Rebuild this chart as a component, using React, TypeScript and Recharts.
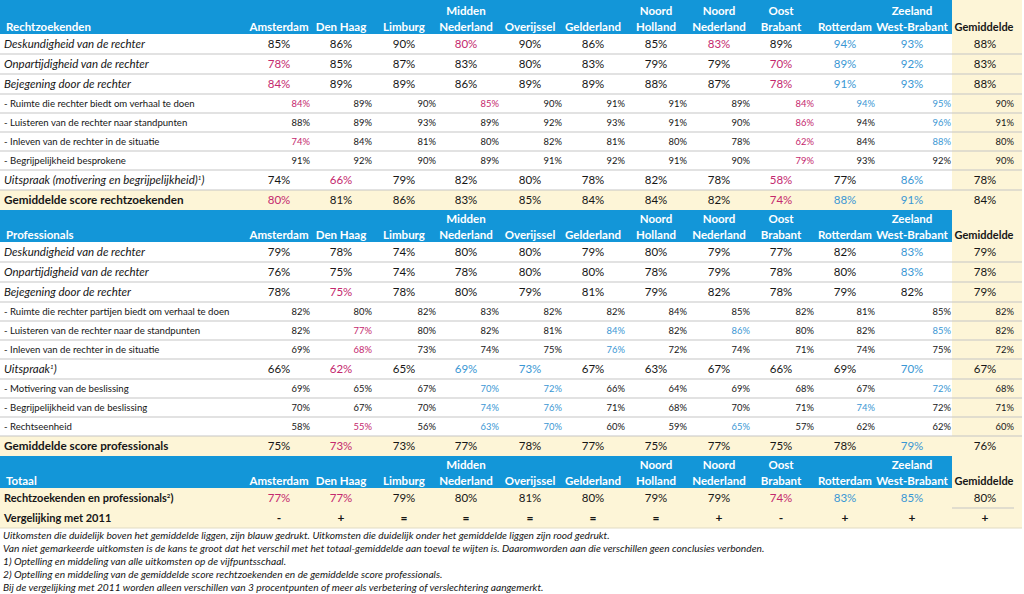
import React from 'react';
import { ScatterChart, Scatter, XAxis, YAxis, ReferenceArea, ReferenceLine } from 'recharts';

// ---------- DATA ----------
const columnHeaders: [string, string][] = [
  ['', 'Amsterdam'], ['', 'Den Haag'], ['', 'Limburg'], ['Midden', 'Nederland'],
  ['', 'Overijssel'], ['', 'Gelderland'], ['Noord', 'Holland'], ['Noord', 'Nederland'],
  ['Oost', 'Brabant'], ['', 'Rotterdam'], ['Zeeland', 'West-Brabant'], ['', 'Gemiddelde'],
];

// significance codes: '.' = neutral, 'b' = clearly above average (blue), 'r' = clearly below (red)
const rzDeskundigheid = [85, 86, 90, 80, 90, 86, 85, 83, 89, 94, 93, 88];
const rzDeskundigheidSig = '...r...r.bb.';
const rzOnpartijdigheid = [78, 85, 87, 83, 80, 83, 79, 79, 70, 89, 92, 83];
const rzOnpartijdigheidSig = 'r.......rbb.';
const rzBejegening = [84, 89, 89, 86, 89, 89, 88, 87, 78, 91, 93, 88];
const rzBejegeningSig = 'r.......rbb.';
const rzRuimte = [84, 89, 90, 85, 90, 91, 91, 89, 84, 94, 95, 90];
const rzRuimteSig = 'r..r....rbb.';
const rzLuisteren = [88, 89, 93, 89, 92, 93, 91, 90, 86, 94, 96, 91];
const rzLuisterenSig = '........r.b.';
const rzInleven = [74, 84, 81, 80, 82, 81, 80, 78, 62, 84, 88, 80];
const rzInlevenSig = 'r.......r.b.';
const rzBegrijpelijkheid = [91, 92, 90, 89, 91, 92, 91, 90, 79, 93, 92, 90];
const rzBegrijpelijkheidSig = '........r...';
const rzUitspraak = [74, 66, 79, 82, 80, 78, 82, 78, 58, 77, 86, 78];
const rzUitspraakSig = '.r......r.b.';
const rzGemiddelde = [80, 81, 86, 83, 85, 84, 84, 82, 74, 88, 91, 84];
const rzGemiddeldeSig = 'r.......rbb.';

const prDeskundigheid = [79, 78, 74, 80, 80, 79, 80, 79, 77, 82, 83, 79];
const prDeskundigheidSig = '..........b.';
const prOnpartijdigheid = [76, 75, 74, 78, 80, 80, 78, 79, 78, 80, 83, 78];
const prOnpartijdigheidSig = '..........b.';
const prBejegening = [78, 75, 78, 80, 79, 81, 79, 82, 78, 79, 82, 79];
const prBejegeningSig = '.r..........';
const prRuimte = [82, 80, 82, 83, 82, 82, 84, 85, 82, 81, 85, 82];
const prRuimteSig = '............';
const prLuisteren = [82, 77, 80, 82, 81, 84, 82, 86, 80, 82, 85, 82];
const prLuisterenSig = '.r...b.b..b.';
const prInleven = [69, 68, 73, 74, 75, 76, 72, 74, 71, 74, 75, 72];
const prInlevenSig = '.r...b......';
const prUitspraak = [66, 62, 65, 69, 73, 67, 63, 67, 66, 69, 70, 67];
const prUitspraakSig = '.r.bb.....b.';
const prMotivering = [69, 65, 67, 70, 72, 66, 64, 69, 68, 67, 72, 68];
const prMotiveringSig = '...bb.....b.';
const prBegrijpelijkheid = [70, 67, 70, 74, 76, 71, 68, 70, 71, 74, 72, 71];
const prBegrijpelijkheidSig = '...bb....b..';
const prRechtseenheid = [58, 55, 56, 63, 70, 60, 59, 65, 57, 62, 62, 60];
const prRechtseenheidSig = '.r.bb..b....';
const prGemiddelde = [75, 73, 73, 77, 78, 77, 75, 77, 75, 78, 79, 76];
const prGemiddeldeSig = '.r........b.';

const totaal = [77, 77, 79, 80, 81, 80, 79, 79, 74, 83, 85, 80];
const totaalSig = 'rr......rbb.';
const vergelijking2011 = ['-', '+', '=', '=', '=', '=', '=', '+', '-', '+', '+', '+'];

const footnotes = [
  'Uitkomsten die duidelijk boven het gemiddelde liggen, zijn blauw gedrukt. Uitkomsten die duidelijk onder het gemiddelde liggen zijn rood gedrukt.',
  'Van niet gemarkeerde uitkomsten is de kans te groot dat het verschil met het totaal-gemiddelde aan toeval te wijten is. Daaromworden aan die verschillen geen conclusies verbonden.',
  '1) Optelling en middeling van alle uitkomsten op de vijfpuntsschaal.',
  '2) Optelling en middeling van de gemiddelde score rechtzoekenden en de gemiddelde score professionals.',
  'Bij de vergelijking met 2011 worden alleen verschillen van 3 procentpunten of meer als verbetering of verslechtering aangemerkt.',
];

type Kind = 'head' | 'main' | 'sub' | 'avg' | 'total' | 'cmp';
interface RowDef { kind: Kind; label: string; sup?: string; values?: (number | string)[]; sig?: string; }

const rows: RowDef[] = [
  { kind: 'head', label: 'Rechtzoekenden' },
  { kind: 'main', label: 'Deskundigheid van de rechter', values: rzDeskundigheid, sig: rzDeskundigheidSig },
  { kind: 'main', label: 'Onpartijdigheid van de rechter', values: rzOnpartijdigheid, sig: rzOnpartijdigheidSig },
  { kind: 'main', label: 'Bejegening door de rechter', values: rzBejegening, sig: rzBejegeningSig },
  { kind: 'sub', label: '- Ruimte die rechter biedt om verhaal te doen', values: rzRuimte, sig: rzRuimteSig },
  { kind: 'sub', label: '- Luisteren van de rechter naar standpunten', values: rzLuisteren, sig: rzLuisterenSig },
  { kind: 'sub', label: '- Inleven van de rechter in de situatie', values: rzInleven, sig: rzInlevenSig },
  { kind: 'sub', label: '- Begrijpelijkheid besprokene', values: rzBegrijpelijkheid, sig: rzBegrijpelijkheidSig },
  { kind: 'main', label: 'Uitspraak (motivering en begrijpelijkheid)', sup: '1', values: rzUitspraak, sig: rzUitspraakSig },
  { kind: 'avg', label: 'Gemiddelde score rechtzoekenden', values: rzGemiddelde, sig: rzGemiddeldeSig },
  { kind: 'head', label: 'Professionals' },
  { kind: 'main', label: 'Deskundigheid van de rechter', values: prDeskundigheid, sig: prDeskundigheidSig },
  { kind: 'main', label: 'Onpartijdigheid van de rechter', values: prOnpartijdigheid, sig: prOnpartijdigheidSig },
  { kind: 'main', label: 'Bejegening door de rechter', values: prBejegening, sig: prBejegeningSig },
  { kind: 'sub', label: '- Ruimte die rechter partijen biedt om verhaal te doen', values: prRuimte, sig: prRuimteSig },
  { kind: 'sub', label: '- Luisteren van de rechter naar de standpunten', values: prLuisteren, sig: prLuisterenSig },
  { kind: 'sub', label: '- Inleven van de rechter in de situatie', values: prInleven, sig: prInlevenSig },
  { kind: 'main', label: 'Uitspraak', sup: '1', values: prUitspraak, sig: prUitspraakSig },
  { kind: 'sub', label: '- Motivering van de beslissing', values: prMotivering, sig: prMotiveringSig },
  { kind: 'sub', label: '- Begrijpelijkheid van de beslissing', values: prBegrijpelijkheid, sig: prBegrijpelijkheidSig },
  { kind: 'sub', label: '- Rechtseenheid', values: prRechtseenheid, sig: prRechtseenheidSig },
  { kind: 'avg', label: 'Gemiddelde score professionals', values: prGemiddelde, sig: prGemiddeldeSig },
  { kind: 'head', label: 'Totaal' },
  { kind: 'total', label: 'Rechtzoekenden en professionals', sup: '2', values: totaal, sig: totaalSig },
  { kind: 'cmp', label: 'Vergelijking met 2011', values: vergelijking2011 },
];

// ---------- LAYOUT / STYLE ----------
const W = 1024;
const H = 594;
const TABLE_RIGHT = 1022;
const GEM_LEFT = 952;
const COL_CENTER = [279, 341, 404, 466, 530, 593, 656, 719, 781, 845, 912, 985];
const COL_RIGHT = [310, 372, 436, 499, 562, 625, 687, 750, 814, 875, 951, 1014];
const HEAD_HEIGHTS = [34, 32, 32];
const ROW_HEIGHT: Record<Kind, number> = { head: 0, main: 20, sub: 19, avg: 20, total: 20, cmp: 20 };
const NOTE_TOP = 538.5;
const NOTE_STEP = 13.2;

const FONT = "Lato, 'Open Sans', sans-serif";
const BLUE_BG = '#1396D8';
const CREAM = '#FDF5D7';
const LINE = '#c6c6c6';
const RED = '#C4286E';
const BLUE = '#3A97D4';
const INK = '#161616';

interface Cell {
  x: number; y: number; text: string; sup?: string; fs: number; weight: number | string;
  italic?: boolean; fill: string; anchor: 'start' | 'middle' | 'end';
}

const cells: Cell[] = [];
const headBands: { y1: number; y2: number }[] = [];
const creamRows: { y1: number; y2: number }[] = [];
const separators: { y: number; x1: number; x2: number; color?: string }[] = [];

(() => {
  let y = 0;
  let headIdx = 0;
  let prevKind: Kind | null = null;
  rows.forEach((r) => {
    if (r.kind === 'head') {
      const h = HEAD_HEIGHTS[headIdx++];
      const bottom = y + h;
      headBands.push({ y1: y, y2: bottom });
      cells.push({ x: 6, y: bottom - 7, text: r.label, fs: 11.5, weight: 700, fill: '#fff', anchor: 'start' });
      columnHeaders.forEach(([l1, l2], i) => {
        if (i === columnHeaders.length - 1) {
          cells.push({ x: COL_CENTER[i] - 1, y: bottom - 7, text: l2, fs: 11, weight: 700, fill: INK, anchor: 'middle' });
          return;
        }
        if (l1) cells.push({ x: COL_CENTER[i], y: bottom - 23, text: l1, fs: 11.5, weight: 700, fill: '#fff', anchor: 'middle' });
        cells.push({ x: COL_CENTER[i], y: bottom - 7, text: l2, fs: 11.5, weight: 700, fill: '#fff', anchor: 'middle' });
      });
      y = bottom;
      prevKind = 'head';
      return;
    }
    const h = ROW_HEIGHT[r.kind];
    const cy = y + h / 2;
    if (prevKind && prevKind !== 'head') {
      if (r.kind === 'cmp') separators.push({ y, x1: GEM_LEFT, x2: TABLE_RIGHT - 8 });
      else separators.push({ y, x1: 0, x2: TABLE_RIGHT });
    }
    if (r.kind === 'avg' || r.kind === 'total' || r.kind === 'cmp') creamRows.push({ y1: y, y2: y + h });
    const isSub = r.kind === 'sub';
    const labelStyle =
      r.kind === 'main' ? { fs: 11.5, weight: 400, italic: true } :
      r.kind === 'sub' ? { fs: 9.6, weight: 400, italic: false } :
      r.kind === 'avg' ? { fs: 11.7, weight: 700, italic: false } :
      { fs: 11, weight: 700, italic: false };
    cells.push({ x: 4, y: cy, text: r.label, sup: r.sup, fs: labelStyle.fs, weight: labelStyle.weight, italic: labelStyle.italic, fill: INK, anchor: 'start' });
    (r.values || []).forEach((v, i) => {
      const s = r.sig ? r.sig[i] : '.';
      const fill = s === 'r' ? RED : s === 'b' ? BLUE : INK;
      const text = typeof v === 'number' ? `${v}%` : v;
      cells.push({
        x: isSub ? COL_RIGHT[i] : COL_CENTER[i],
        y: cy,
        text,
        fs: isSub ? 9.4 : r.kind === 'cmp' ? 12 : 11.5,
        weight: r.kind === 'cmp' ? 700 : 400,
        fill,
        anchor: isSub ? 'end' : 'middle',
      });
    });
    y += h;
    prevKind = r.kind;
  });
  separators.push({ y, x1: 0, x2: TABLE_RIGHT, color: '#e2dcc4' });
  footnotes.forEach((t, i) => {
    cells.push({ x: 3, y: NOTE_TOP + NOTE_STEP * i - 3.6, text: t, fs: 10.2, weight: 400, italic: true, fill: INK, anchor: 'start' });
  });
})();

const TABLE_BOTTOM = creamRows[creamRows.length - 1].y2;

const CellText = (props: any) => {
  const p: Cell = props.payload ?? props;
  const { cx, cy } = props;
  if (cx == null || cy == null) return <g />;
  const base = cy + p.fs * 0.36;
  return (
    <text
      x={cx}
      y={base}
      textAnchor={p.anchor}
      fontSize={p.fs}
      fontWeight={p.weight}
      fontStyle={p.italic ? 'italic' : 'normal'}
      fill={p.fill}
      fontFamily={FONT}
    >
      {p.text}
      {p.sup ? (
        <>
          <tspan fontSize={p.fs * 0.55} dy={-p.fs * 0.4}>{p.sup}</tspan>
          <tspan dy={p.fs * 0.4}>)</tspan>
        </>
      ) : null}
    </text>
  );
};

export default function App() {
  return (
    <div style={{ position: 'absolute', left: 0, top: 0, width: W, height: H, background: '#fff' }}>
      <ScatterChart width={W} height={H} margin={{ top: 0, right: 0, bottom: 0, left: 0 }}>
        <XAxis type="number" dataKey="x" domain={[0, W]} hide allowDataOverflow />
        <YAxis type="number" dataKey="y" domain={[0, H]} reversed hide allowDataOverflow />
        <ReferenceArea x1={GEM_LEFT} x2={TABLE_RIGHT} y1={0} y2={TABLE_BOTTOM} fill={CREAM} fillOpacity={1} stroke="none" />
        {headBands.map((b, i) => (
          <ReferenceArea key={`hb${i}`} x1={0} x2={GEM_LEFT} y1={b.y1} y2={b.y2} fill={BLUE_BG} fillOpacity={1} stroke="none" />
        ))}
        {creamRows.map((b, i) => (
          <ReferenceArea key={`cr${i}`} x1={0} x2={TABLE_RIGHT} y1={b.y1} y2={b.y2} fill={CREAM} fillOpacity={1} stroke="none" />
        ))}
        {separators.map((s, i) => (
          <ReferenceLine
            key={`sep${i}`}
            segment={[{ x: s.x1, y: s.y }, { x: s.x2, y: s.y }]}
            stroke={s.color || LINE}
            strokeWidth={1.2}
          />
        ))}
        <Scatter data={cells} shape={CellText} isAnimationActive={false} />
      </ScatterChart>
    </div>
  );
}
